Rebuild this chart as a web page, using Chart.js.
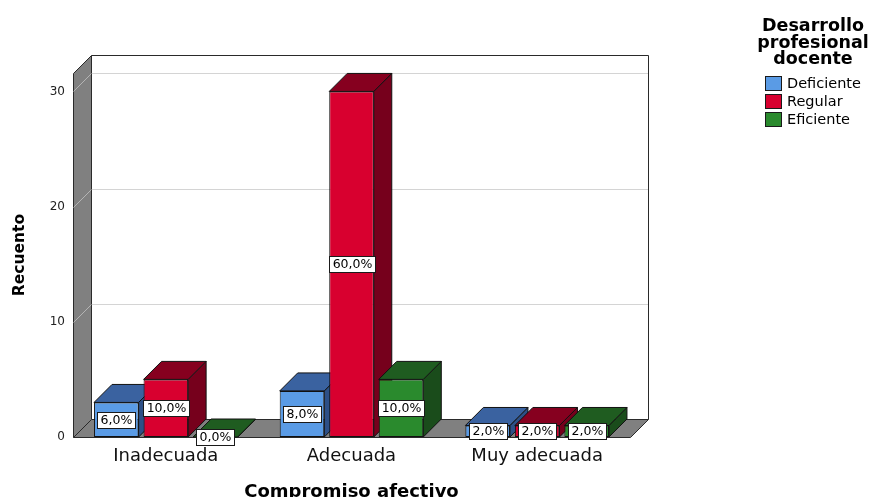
<!DOCTYPE html>
<html>
<head>
<meta charset="utf-8">
<script src="https://cdn.jsdelivr.net/npm/chart.js@4/dist/chart.umd.min.js"></script>
<style>
  html, body { margin: 0; padding: 0; background: #fff; overflow: hidden; }
  #wrap { position: relative; width: 873px; height: 497px; }
</style>
</head>
<body>
<div id="wrap"><canvas id="c" width="873" height="497"></canvas></div>
<script>
// Counts per category of "Compromiso afectivo", one array per series
const categories = ['Inadecuada', 'Adecuada', 'Muy adecuada'];
const seriesNames = ['Deficiente', 'Regular', 'Eficiente'];
const deficiente = [3, 4, 1];
const regular = [5, 30, 1];
const eficiente = [0, 5, 1];
const yTicks = [0, 10, 20, 30];
const yMax = 31.6;
const legendTitle = ['Desarrollo', 'profesional', 'docente'];

// Face colours of the 3D boxes
const frontColors = ['#5a9be5', '#d8002f', '#2a8a2d'];
const topColors = ['#3a62a0', '#86001f', '#1f5c20'];
const sideColors = ['#2d5087', '#76001c', '#1a4c1b'];

const FONT = '"DejaVu Sans", "Liberation Sans", Arial, sans-serif';
const DEPTH = 18;

const total = [...deficiente, ...regular, ...eficiente].reduce((s, v) => s + v, 0);
const pctLabel = v => (v / total * 100).toFixed(1).replace('.', ',') + '%';

function poly(ctx, pts, fill, stroke) {
  ctx.beginPath();
  ctx.moveTo(pts[0][0], pts[0][1]);
  for (let i = 1; i < pts.length; i++) ctx.lineTo(pts[i][0], pts[i][1]);
  ctx.closePath();
  if (fill) { ctx.fillStyle = fill; ctx.fill(); }
  if (stroke) { ctx.strokeStyle = stroke; ctx.lineWidth = 1; ctx.stroke(); }
}

function line(ctx, x1, y1, x2, y2, color) {
  ctx.beginPath();
  ctx.moveTo(x1, y1);
  ctx.lineTo(x2, y2);
  ctx.strokeStyle = color;
  ctx.lineWidth = 1;
  ctx.stroke();
}

// Walls, floor and the top/side faces of every bar (fronts are drawn by Chart.js)
const box3d = {
  id: 'box3d',
  beforeDatasetsDraw(chart) {
    const { ctx, chartArea: a, scales: { y } } = chart;
    const d = DEPTH;
    const L = Math.round(a.left) + 0.5, R = Math.round(a.right) + 0.5;
    const T = Math.round(a.top) + 0.5, B = Math.round(a.bottom) + 0.5;
    ctx.save();
    // back wall
    poly(ctx, [[L + d, T - d], [R + d, T - d], [R + d, B - d], [L + d, B - d]], '#ffffff', null);
    yTicks.forEach(t => {
      if (t === 0) return;
      const py = Math.round(y.getPixelForValue(t)) + 0.5;
      line(ctx, L + d, py - d, R + d, py - d, '#d4d4d4');
    });
    line(ctx, L + d, T - d, R + d, T - d, '#2a2a2a');
    line(ctx, R + d, T - d, R + d, B - d, '#2a2a2a');
    // left wall
    poly(ctx, [[L, B], [L, T], [L + d, T - d], [L + d, B - d]], '#808080', '#2a2a2a');
    yTicks.forEach(t => {
      const py = Math.round(y.getPixelForValue(t)) + 0.5;
      line(ctx, L, py, L + d, py - d, '#b4b4b4');
    });
    // floor
    poly(ctx, [[L, B], [R, B], [R + d, B - d], [L + d, B - d]], '#808080', '#2a2a2a');

    // bars, left to right, so nearer faces overlap farther ones
    const bars = [];
    chart.data.datasets.forEach((ds, di) => {
      chart.getDatasetMeta(di).data.forEach(el => bars.push({ el, di }));
    });
    bars.sort((p, q) => p.el.x - q.el.x);
    bars.forEach(({ el, di }) => {
      const { x, y: top, base, width } = el.getProps(['x', 'y', 'base', 'width'], true);
      const l = x - width / 2, r = x + width / 2;
      poly(ctx, [[r, top], [r + d, top - d], [r + d, base - d], [r, base]], sideColors[di], '#111');
      poly(ctx, [[l, top], [r, top], [r + d, top - d], [l + d, top - d]], topColors[di], '#111');
    });
    ctx.restore();
  },
  afterDatasetsDraw(chart) {
    const { ctx } = chart;
    ctx.save();
    ctx.font = '12.5px ' + FONT;
    ctx.textAlign = 'center';
    ctx.textBaseline = 'middle';
    chart.data.datasets.forEach((ds, di) => {
      chart.getDatasetMeta(di).data.forEach((el, i) => {
        const { x, y: top, base } = el.getProps(['x', 'y', 'base'], true);
        const txt = pctLabel(ds.data[i]);
        const w = Math.round(ctx.measureText(txt).width + 6);
        const h = 16;
        const cy = Math.round((top + base) / 2);
        const bx = Math.round(x - w / 2) + 0.5, by = cy - h / 2 + 0.5;
        ctx.fillStyle = '#ffffff';
        ctx.fillRect(bx, by, w, h);
        ctx.strokeStyle = '#1a1a1a';
        ctx.lineWidth = 1;
        ctx.strokeRect(bx, by, w, h);
        ctx.fillStyle = '#000000';
        ctx.fillText(txt, bx + w / 2, cy + 1);
      });
    });
    ctx.restore();
  },
  afterDraw(chart) {
    const { ctx } = chart;
    ctx.save();
    ctx.fillStyle = '#000';
    ctx.textAlign = 'center';
    ctx.textBaseline = 'alphabetic';
    ctx.font = 'bold 17.5px ' + FONT;
    const titleBase = [31, 47.5, 64];
    legendTitle.forEach((t, i) => ctx.fillText(t, 813, titleBase[i]));
    ctx.textAlign = 'left';
    ctx.textBaseline = 'middle';
    ctx.font = '14.5px ' + FONT;
    chart.data.datasets.forEach((ds, i) => {
      const top = 76 + i * 18;
      ctx.fillStyle = ds.backgroundColor;
      ctx.fillRect(765.5, top + 0.5, 16, 14);
      ctx.strokeStyle = '#1a1a1a';
      ctx.lineWidth = 1;
      ctx.strokeRect(765.5, top + 0.5, 16, 14);
      ctx.fillStyle = '#000';
      ctx.fillText(ds.label, 787, top + 8);
    });
    ctx.restore();
  }
};

const seriesData = [deficiente, regular, eficiente];

new Chart(document.getElementById('c'), {
  type: 'bar',
  data: {
    labels: categories,
    datasets: seriesNames.map((name, i) => ({
      label: name,
      data: seriesData[i],
      backgroundColor: frontColors[i],
      borderColor: '#111',
      borderWidth: 1,
      borderSkipped: false,
      barPercentage: 0.9,
      categoryPercentage: 0.8
    }))
  },
  options: {
    responsive: false,
    devicePixelRatio: 1,
    animation: false,
    layout: { padding: { top: 73, right: 243, left: 0, bottom: 0 } },
    plugins: { legend: { display: false }, tooltip: { enabled: false } },
    scales: {
      x: {
        afterFit(s) { s.height = 60; },
        grid: { display: false, drawTicks: false },
        border: { display: false },
        ticks: { padding: 9, color: '#111', font: { family: FONT, size: 18 }, maxRotation: 0, autoSkip: false },
        title: {
          display: true, text: 'Compromiso afectivo', color: '#000',
          font: { family: FONT, size: 18, weight: 'bold', lineHeight: 0.5 }, padding: 0
        }
      },
      y: {
        min: 0,
        max: yMax,
        afterFit(s) { s.width = 73; },
        afterBuildTicks(s) { s.ticks = yTicks.map(v => ({ value: v })); },
        grid: { display: false, drawTicks: false },
        border: { display: false },
        ticks: { padding: 8, color: '#222', font: { family: FONT, size: 12 } },
        title: {
          display: true, text: 'Recuento', color: '#000',
          font: { family: FONT, size: 15.5, weight: 'bold' }, padding: { top: 11, bottom: 0 }
        }
      }
    }
  },
  plugins: [box3d]
});
</script>
</body>
</html>
